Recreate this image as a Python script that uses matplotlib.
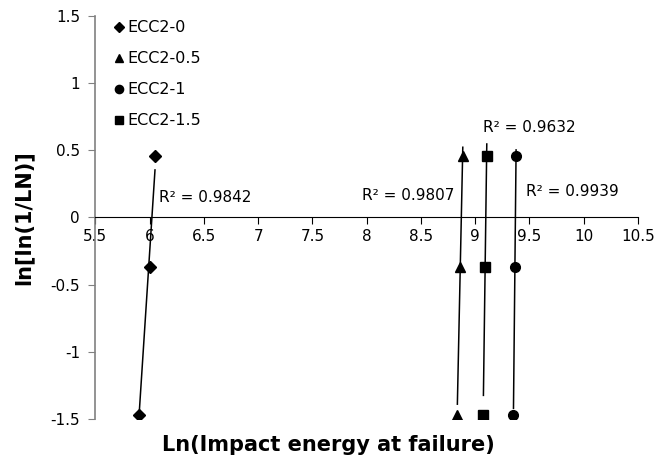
import matplotlib
matplotlib.use("Agg")
import matplotlib.pyplot as plt
import numpy as np
from matplotlib.ticker import FixedLocator, FuncFormatter

plt.rcParams['font.family'] = ['DejaVu Sans']
plt.rcParams['axes.unicode_minus'] = False

series_names = ["ECC2-0", "ECC2-0.5", "ECC2-1", "ECC2-1.5"]
y_vals = [-1.467, -0.367, 0.457]
x_ecc0 = [5.90, 6.004, 6.05]
x_ecc05 = [8.836, 8.859, 8.886]
x_ecc1 = [9.353, 9.365, 9.377]
x_ecc15 = [9.076, 9.088, 9.107]
r2_labels = ["R² = 0.9842", "R² = 0.9807", "R² = 0.9939", "R² = 0.9632"]
x_ticks = [5.5, 6, 6.5, 7, 7.5, 8, 8.5, 9, 9.5, 10, 10.5]
y_ticks = [-1.5, -1, -0.5, 0, 0.5, 1, 1.5]

series_x = [x_ecc0, x_ecc05, x_ecc1, x_ecc15]
markers = ['D', '^', 'o', 's']
msizes = [6, 7, 7, 6.5]
label_pos = [(6.09, 0.15), (7.96, 0.165), (9.47, 0.19), (9.07, 0.67)]

fig = plt.figure(figsize=(6.55, 4.66), dpi=100)
ax = fig.add_axes([0.1455, 0.1009, 0.974 - 0.1455, 0.9657 - 0.1009])

for name, xs, m, ms in zip(series_names, series_x, markers, msizes):
    xs = np.array(xs)
    ys = np.array(y_vals)
    b, a = np.polyfit(xs, ys, 1)
    xl = np.array([xs.min(), xs.max()])
    ax.plot(xl, a + b * xl, color='black', lw=1.1, zorder=2)
    ax.plot(xs, ys, linestyle='none', marker=m, markersize=ms, color='black',
            label=name, zorder=3)

for txt, (tx, ty) in zip(r2_labels, label_pos):
    ax.text(tx, ty, txt, fontsize=11, ha='left', va='center', color='black')

ax.set_xlim(5.5, 10.5)
ax.set_ylim(-1.5, 1.5)
ax.xaxis.set_major_locator(FixedLocator(x_ticks))
ax.yaxis.set_major_locator(FixedLocator(y_ticks))
fmt = FuncFormatter(lambda v, p: ('%g' % v))
ax.xaxis.set_major_formatter(fmt)
ax.yaxis.set_major_formatter(fmt)

ax.spines['top'].set_visible(False)
ax.spines['right'].set_visible(False)
ax.spines['bottom'].set_position(('data', 0))
ax.spines['bottom'].set_color('black')
ax.spines['left'].set_color('#808080')
ax.spines['left'].set_linewidth(1.2)
ax.tick_params(axis='x', direction='out', length=5, color='black', labelsize=11, pad=3)
ax.tick_params(axis='y', direction='out', length=5, color='#808080', labelsize=11, pad=6)

ax.set_xlabel('Ln(Impact energy at failure)', fontsize=15, fontweight='bold', va='baseline')
ax.xaxis.set_label_coords(0.43, -0.079)
ax.set_ylabel('ln[ln(1/LN)]', fontsize=15, fontweight='bold', va='center')
ax.yaxis.set_label_coords(-0.133, 0.5)

ax.legend(loc='upper left', bbox_to_anchor=(0.02, 1.005), frameon=False,
          handlelength=0.8, handletextpad=0.15, labelspacing=1.0,
          fontsize=11.5, numpoints=1, markerscale=0.85, borderaxespad=0.0)

fig.savefig('out.png', dpi=100)
